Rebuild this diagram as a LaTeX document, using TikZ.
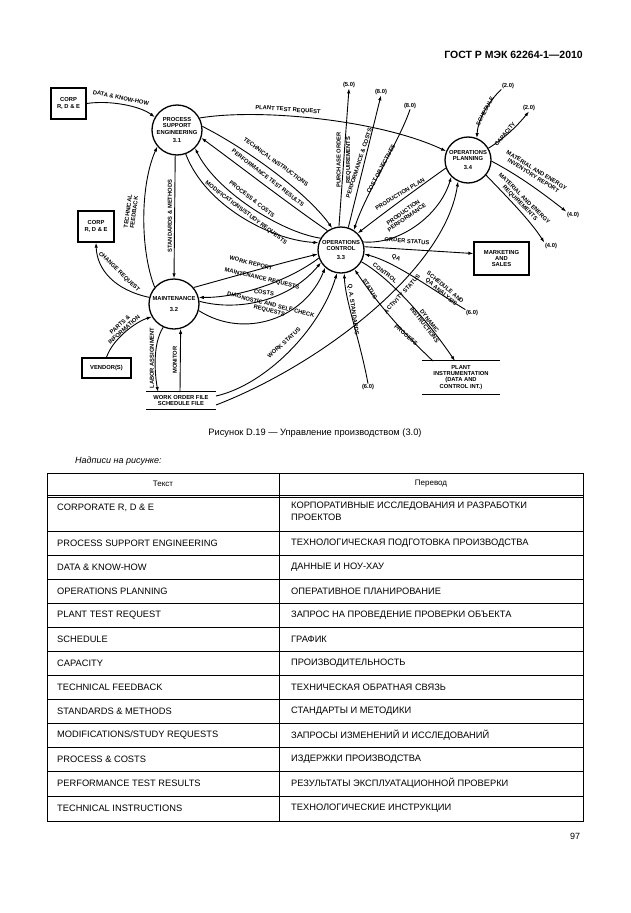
\documentclass[tikz,border=0pt]{standalone}
\usepackage{fontspec}
\setmainfont{Liberation Sans}
\newfontfamily\diafont{Liberation Sans}
\usetikzlibrary{arrows.meta}
\newcommand\lblfont{\diafont\bfseries\fontsize{5.8}{6.2}\selectfont}
\newcommand\tabfont{\fontsize{9.3}{11.5}\selectfont}
\begin{document}
\begin{tikzpicture}[x=1pt,y=-1pt,
  proc/.style={circle,draw,line width=1.3pt,minimum size=#1,inner sep=0pt,align=center,font=\lblfont},
  proc/.default=48pt,
  ebox/.style={draw,line width=1.3pt,inner sep=0pt,align=center,font=\lblfont},
  store/.style={inner sep=0pt,align=center,font=\lblfont},
  lbl/.style={font=\lblfont,inner sep=0.3pt,align=center},
  ext/.style={font=\lblfont,inner sep=0.5pt},
  flow/.style={line width=0.9pt,-{Latex[length=5pt,width=3.4pt]}},
  tline/.style={line width=0.6pt},
  ttext/.style={font=\tabfont,anchor=west,inner sep=0pt,align=left}]
\useasboundingbox (0,0) rectangle (630,913);
\fill[white] (0,0) rectangle (630,913);

% header
\node[font=\bfseries\fontsize{10.5}{12}\selectfont,anchor=east,inner sep=0pt] (hdr) at (583,55) {ГОСТ Р МЭК 62264-1—2010};

% processes
\node[proc=50pt] (PSE) at (177,130) {PROCESS\\SUPPORT\\ENGINEERING\\[2pt]3.1};
\node[proc=50pt] (MNT) at (174,304) {MAINTENANCE\\[4pt]3.2};
\node[proc=46pt] (OC) at (341,250) {OPERATIONS\\CONTROL\\[3pt]3.3};
\node[proc=46pt] (OP) at (468,160) {OPERATIONS\\PLANNING\\[3pt]3.4};

% external boxes
\node[ebox,minimum width=35pt,minimum height=31pt] (corp1) at (68.5,103.5) {CORP\\R, D \& E};
\node[ebox,minimum width=36pt,minimum height=31pt] (corp2) at (96,226.5) {CORP\\R, D \& E};
\node[ebox,minimum width=49pt,minimum height=20pt] (vendor) at (106.5,368) {VENDOR(S)};
\node[ebox,minimum width=55pt,minimum height=33pt] (mkt) at (501.5,258.5) {MARKETING\\AND\\SALES};

% stores
\node[store,minimum width=70pt,minimum height=17pt] (wof) at (181,400.5) {WORK ORDER FILE\\SCHEDULE FILE};
\draw[line width=1.1pt] (wof.north west) -- (wof.north east) (wof.south west) -- (wof.south east);
\node[store,minimum width=78pt,minimum height=33pt] (plant) at (461,377.5) {PLANT\\INSTRUMENTATION\\(DATA AND\\CONTROL INT.)};
\draw[line width=1.1pt] (plant.north west) -- (plant.north east) (plant.south west) -- (plant.south east);
\coordinate (wofA) at (158,392);
\coordinate (wofB) at (180,392);
\coordinate (wofC) at (216,396);
\coordinate (wofD) at (216,405);
\coordinate (plA) at (433,361);
\coordinate (plB) at (455,361);

% external references
\node[ext] (p50) at (349,85) {(5.0)};
\node[ext] (p80a) at (381,92) {(8.0)};
\node[ext] (p80b) at (410,106) {(8.0)};
\node[ext] (p20a) at (508,86) {(2.0)};
\node[ext] (p20b) at (529,108) {(2.0)};
\node[ext] (p40a) at (573,215) {(4.0)};
\node[ext] (p40b) at (551,246) {(4.0)};
\node[ext] (p60a) at (472,313) {(6.0)};
\node[ext] (p60b) at (368,387) {(6.0)};

% flows around PSE
\draw[flow] (corp1.east) .. controls (110,100) and (140,106) .. (PSE.150);
\node[lbl,rotate=-12] (l1) at (121,98) {DATA \& KNOW-HOW};
\draw[flow] (PSE.28) .. controls (260,108) and (380,120) .. (OP.158);
\node[lbl,rotate=-4] (l2) at (288,110) {PLANT TEST REQUEST};
\draw[flow] (PSE.8) .. controls (240,145) and (305,190) .. (OC.112);
\node[lbl,rotate=-36] (l3) at (276,162) {TECHNICAL INSTRUCTIONS};
\draw[flow] (OC.125) .. controls (290,205) and (245,170) .. (PSE.-18);
\node[lbl,rotate=-38] (l4) at (268,178) {PERFORMANCE TEST RESULTS};
\draw[flow] (OC.150) .. controls (280,232) and (215,190) .. (PSE.-45);
\node[lbl,rotate=-38] (l5) at (252,199) {PROCESS \& COSTS};
\draw[flow] (PSE.-70) .. controls (205,205) and (270,240) .. (OC.162);
\node[lbl,rotate=-37] (l6) at (246,213) {MODIFICATIONS/STUDY REQUESTS};
\draw[flow] (PSE.-94) -- (MNT.90);
\node[lbl,rotate=90] (l7) at (170,216) {STANDARDS \& METHODS};
\draw[flow] (MNT.139) .. controls (140,250) and (140,185) .. (PSE.-140);
\node[lbl,rotate=82] (l8) at (131,212) {TECHNICAL\\FEEDBACK};

% flows around maintenance
\draw[flow] (MNT.165) .. controls (115,290) and (97,270) .. (corp2.south);
\node[lbl,rotate=-44] (l9) at (119,272) {CHANGE REQUEST};
\draw[flow] (vendor.north) .. controls (112,340) and (135,322) .. (MNT.-150);
\node[lbl,rotate=42] (l10) at (122,327) {PARTS \&\\INFORMATION};
\draw[flow] (MNT.-115) .. controls (152,345) and (155,375) .. (wofA);
\node[lbl,rotate=90] (l11) at (152,358) {LABOR ASSIGNMENT};
\draw[flow] (wofB) -- (MNT.-75);
\node[lbl,rotate=90] (l12) at (175,360) {MONITOR};
\draw[flow] (MNT.40) .. controls (235,276) and (285,262) .. (OC.190);
\node[lbl,rotate=-14] (l13) at (251,263) {WORK REPORT};
\draw[flow] (OC.200) .. controls (290,280) and (240,298) .. (MNT.15);
\node[lbl,rotate=-13] (l14) at (262,279) {MAINTENANCE REQUESTS};
\draw[flow] (MNT.6) .. controls (240,312) and (290,300) .. (OC.212);
\node[lbl,rotate=-8] (l15) at (264,292.5) {COSTS};
\draw[flow] (MNT.-15) .. controls (245,340) and (305,318) .. (OC.228);
\node[lbl,rotate=-14] (l16) at (270,308) {DIAGNOSTIC AND SELF-CHECK\\REQUESTS};
\draw[flow] (wofC) .. controls (265,385) and (320,330) .. (OC.-100);
\node[lbl,rotate=42] (l17) at (284,343) {WORK STATUS};
\draw[flow] (wofD) .. controls (320,365) and (445,270) .. (OP.-115);
\node[lbl,rotate=48] (l18) at (402,294) {ACTIVITY STATUS};

% flows around OC / OP
\draw[flow] (OC.95) -- (p50.south);
\node[lbl,rotate=90,font=\diafont\bfseries\fontsize{5.8}{9.5}\selectfont] (l19) at (344,160) {PURCHASE ORDER\\REQUIREMENTS};
\draw[flow] (OC.72) -- (p80a.south);
\node[lbl,rotate=72] (l20) at (359,163) {PERFORMANCE \& COSTS};
\draw[flow] (p80b.south) .. controls (400,140) and (365,195) .. (OC.57);
\node[lbl,rotate=62] (l21) at (381,169) {COST OBJECTIVES};
\draw[flow] (OP.-160) .. controls (415,190) and (385,212) .. (OC.45);
\node[lbl,rotate=31] (l22) at (400,194) {PRODUCTION PLAN};
\draw[flow] (OC.20) .. controls (400,245) and (440,215) .. (OP.-135);
\node[lbl,rotate=35] (l23) at (405,215) {PRODUCTION\\PERFORMANCE};
\draw[flow] (OC.8) -- (mkt.170);
\node[lbl,rotate=-5] (l24) at (407,241) {ORDER STATUS};
\draw[flow] (p20a.south west) .. controls (490,100) and (478,118) .. (OP.68);
\node[lbl,rotate=62] (l25) at (485,111) {SCHEDULE};
\draw[flow] (OP.30) .. controls (505,138) and (518,125) .. (p20b.south);
\node[lbl,rotate=50] (l26) at (505,134) {CAPACITY};
\draw[flow] (OP.-3) .. controls (520,176) and (545,195) .. (p40a.north west);
\node[lbl,rotate=-32] (l27) at (535,173) {MATERIAL AND ENERGY\\INVENTORY REPORT};
\draw[flow] (OP.-40) .. controls (505,195) and (530,220) .. (p40b.north west);
\node[lbl,rotate=-45] (l28) at (522,201) {MATERIAL AND ENERGY\\REQUIREMENTS};

% lower right flows
\draw[flow] (p60a.north west) .. controls (430,288) and (395,262) .. (OC.-10);
\node[lbl,rotate=-25] (l29) at (396,258) {QA};
\node[lbl,rotate=-40] (l30) at (443,290) {SCHEDULE AND\\QA ANALYSIS};
\draw[flow] (OC.-30) .. controls (385,275) and (420,310) .. (plB);
\node[lbl,rotate=-37] (l31) at (385,273) {CONTROL};
\node[lbl,rotate=-52] (l32) at (427,323) {DYNAMIC\\INSTRUCTIONS};
\draw[flow] (plA) .. controls (400,330) and (375,300) .. (OC.-55);
\node[lbl,rotate=-58] (l33) at (370,289) {STATUS};
\node[lbl,rotate=-40] (l34) at (406,335) {PROCESS};
\draw[flow] (p60b.north) .. controls (360,340) and (345,300) .. (OC.-82);
\node[lbl,rotate=-82] (l35) at (353,310) {Q. A. STANDARDS};

% caption
\node[font=\fontsize{9.3}{11}\selectfont,inner sep=0pt] (cap) at (315,433) {Рисунок D.19 — Управление производством (3.0)};
\node[font=\itshape\fontsize{9}{11}\selectfont,anchor=west,inner sep=0pt] (nad) at (75,461) {Надписи на рисунке:};

% table
\draw[tline] (47,473) rectangle (583,821);
\draw[tline] (279,473) -- (279,821);
\draw[tline] (47,495) -- (583,495);
\draw[tline] (47,497) -- (583,497);
\foreach \yy in {531,555,579,603,627,651,675,699,723,747,771,796} {\draw[tline] (47,\yy) -- (583,\yy);}
\node[font=\fontsize{8}{10}\selectfont,inner sep=0pt] (th1) at (163,484) {Текст};
\node[font=\fontsize{8}{10}\selectfont,inner sep=0pt] (th2) at (431,484) {Перевод};
\node[ttext] (a1) at (57,508) {CORPORATE R, D \& E};
\node[ttext,anchor=north west] (b1) at (291,502) {КОРПОРАТИВНЫЕ ИССЛЕДОВАНИЯ И РАЗРАБОТКИ\\ПРОЕКТОВ};
\node[ttext] (a2) at (57,543) {PROCESS SUPPORT ENGINEERING};
\node[ttext] (b2) at (291,543) {ТЕХНОЛОГИЧЕСКАЯ ПОДГОТОВКА ПРОИЗВОДСТВА};
\node[ttext] (a3) at (57,567) {DATA \& KNOW-HOW};
\node[ttext] (b3) at (291,567) {ДАННЫЕ И НОУ-ХАУ};
\node[ttext] (a4) at (57,591) {OPERATIONS PLANNING};
\node[ttext] (b4) at (291,591) {ОПЕРАТИВНОЕ ПЛАНИРОВАНИЕ};
\node[ttext] (a5) at (57,615) {PLANT TEST REQUEST};
\node[ttext] (b5) at (291,615) {ЗАПРОС НА ПРОВЕДЕНИЕ ПРОВЕРКИ ОБЪЕКТА};
\node[ttext] (a6) at (57,639) {SCHEDULE};
\node[ttext] (b6) at (291,639) {ГРАФИК};
\node[ttext] (a7) at (57,663) {CAPACITY};
\node[ttext] (b7) at (291,663) {ПРОИЗВОДИТЕЛЬНОСТЬ};
\node[ttext] (a8) at (57,687) {TECHNICAL FEEDBACK};
\node[ttext] (b8) at (291,687) {ТЕХНИЧЕСКАЯ ОБРАТНАЯ СВЯЗЬ};
\node[ttext] (a9) at (57,711) {STANDARDS \& METHODS};
\node[ttext] (b9) at (291,711) {СТАНДАРТЫ И МЕТОДИКИ};
\node[ttext] (a10) at (57,735) {MODIFICATIONS/STUDY REQUESTS};
\node[ttext] (b10) at (291,735) {ЗАПРОСЫ ИЗМЕНЕНИЙ И ИССЛЕДОВАНИЙ};
\node[ttext] (a11) at (57,759) {PROCESS \& COSTS};
\node[ttext] (b11) at (291,759) {ИЗДЕРЖКИ ПРОИЗВОДСТВА};
\node[ttext] (a12) at (57,783) {PERFORMANCE TEST RESULTS};
\node[ttext] (b12) at (291,783) {РЕЗУЛЬТАТЫ ЭКСПЛУАТАЦИОННОЙ ПРОВЕРКИ};
\node[ttext] (a13) at (57,808) {TECHNICAL INSTRUCTIONS};
\node[ttext] (b13) at (291,808) {ТЕХНОЛОГИЧЕСКИЕ  ИНСТРУКЦИИ};

\node[font=\fontsize{9}{11}\selectfont,inner sep=0pt] (pg) at (575,836) {97};
\end{tikzpicture}
\end{document}
